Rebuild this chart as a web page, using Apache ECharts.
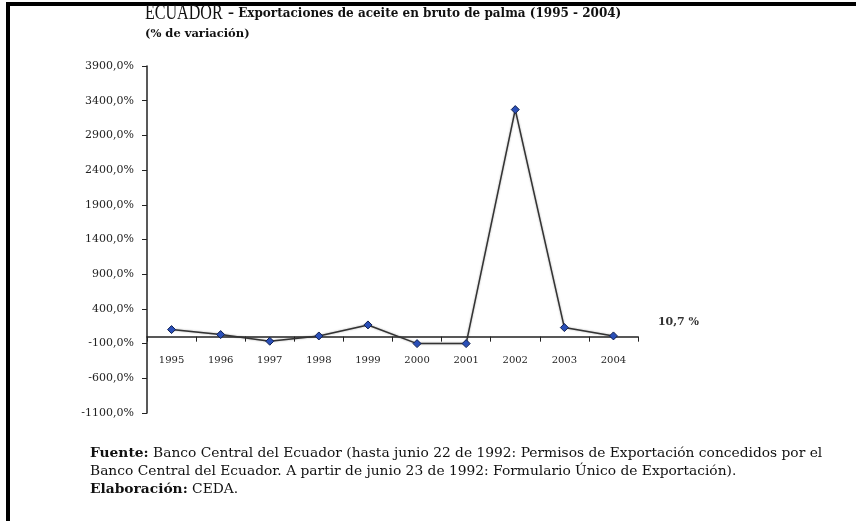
<!DOCTYPE html>
<html>
<head>
<meta charset="utf-8">
<script src="https://cdn.jsdelivr.net/npm/echarts@6/dist/echarts.min.js"></script>
<style>
  html, body { margin: 0; padding: 0; background: #fff; }
  #chart { width: 856px; height: 521px; }
</style>
</head>
<body>
<div id="chart"></div>
<script>
// datos
var years = ['1995', '1996', '1997', '1998', '1999', '2000', '2001', '2002', '2003', '2004'];
var variacion = [102, 30, -66, 10, 169, -100, -100, 3272, 131, 10.7];
var ultimaEtiqueta = '10,7 %';

var serif = '"DejaVu Serif", "Liberation Serif", serif';

var myChart = echarts.init(document.getElementById('chart'));

var puntos = variacion.map(function (v, i) {
  if (i === variacion.length - 1) {
    return {
      value: v,
      label: {
        show: true,
        position: 'right',
        distance: 40,
        offset: [0, -14],
        formatter: ultimaEtiqueta,
        fontFamily: serif,
        fontWeight: 'bold',
        fontSize: 11,
        color: '#333'
      }
    };
  }
  return v;
});

myChart.setOption({
  backgroundColor: '#fff',
  animation: false,
  grid: {
    left: 147,
    right: 218,
    top: 66,
    bottom: 108
  },
  xAxis: [{
    // eje en cero, sin etiquetas
    type: 'category',
    data: years,
    boundaryGap: true,
    axisLine: { onZero: true, lineStyle: { color: '#222', width: 1.5 } },
    axisTick: { show: true, inside: false, length: 5, lineStyle: { color: '#222' } },
    axisLabel: { show: false },
    splitLine: { show: false }
  }, {
    // solo las etiquetas de los años, debajo del eje
    type: 'category',
    data: years,
    position: 'bottom',
    offset: -72,
    boundaryGap: true,
    axisLine: { show: false, onZero: false },
    axisTick: { show: false },
    axisLabel: {
      interval: 0,
      margin: 14,
      fontFamily: serif,
      fontSize: 10,
      color: '#222'
    },
    splitLine: { show: false }
  }],
  yAxis: {
    type: 'value',
    min: -1100,
    max: 3900,
    interval: 500,
    axisLine: { show: true, lineStyle: { color: '#222', width: 1.5 } },
    axisTick: { show: true, length: 5, lineStyle: { color: '#222' } },
    axisLabel: {
      margin: 13,
      fontFamily: serif,
      fontSize: 11,
      color: '#222',
      formatter: function (v) {
        return v.toFixed(1).replace('.', ',') + '%';
      }
    },
    splitLine: { show: false }
  },
  series: [{
    type: 'line',
    data: puntos,
    symbol: 'diamond',
    symbolSize: 8,
    itemStyle: { color: '#2a4fb8', borderColor: '#102050', borderWidth: 1 },
    lineStyle: {
      color: '#333',
      width: 1.5,
      shadowColor: 'rgba(0,0,0,0.35)',
      shadowBlur: 2
    }
  }],
  graphic: [
    // marco
    { type: 'rect', shape: { x: 6, y: 2, width: 850, height: 4 }, style: { fill: '#000' } },
    { type: 'rect', shape: { x: 6, y: 2, width: 4, height: 519 }, style: { fill: '#000' } },
    // título
    {
      type: 'text', left: 145, top: 2, scaleX: 0.73,
      style: { text: 'ECUADOR', font: '22px "Liberation Serif", serif', fill: '#111' }
    },
    {
      type: 'text', left: 228, top: 8,
      style: {
        text: '– Exportaciones de aceite en bruto de palma (1995 - 2004)',
        font: 'bold 12px ' + serif, fill: '#111'
      }
    },
    {
      type: 'text', left: 145, top: 28,
      style: { text: '(% de variación)', font: 'bold 11.5px ' + serif, fill: '#111' }
    },
    // nota
    {
      type: 'text', left: 90, top: 444,
      style: {
        text: '{b|Fuente:} Banco Central del Ecuador (hasta junio 22 de 1992: Permisos de Exportación concedidos por el\n' +
              'Banco Central del Ecuador. A partir de junio 23 de 1992: Formulario Único de Exportación).\n' +
              '{b|Elaboración:} CEDA.',
        font: '13.8px ' + serif,
        fill: '#111',
        lineHeight: 18,
        rich: {
          b: { fontWeight: 'bold', fontFamily: serif, fontSize: 13.8, fill: '#111' }
        }
      }
    }
  ]
});
</script>
</body>
</html>
